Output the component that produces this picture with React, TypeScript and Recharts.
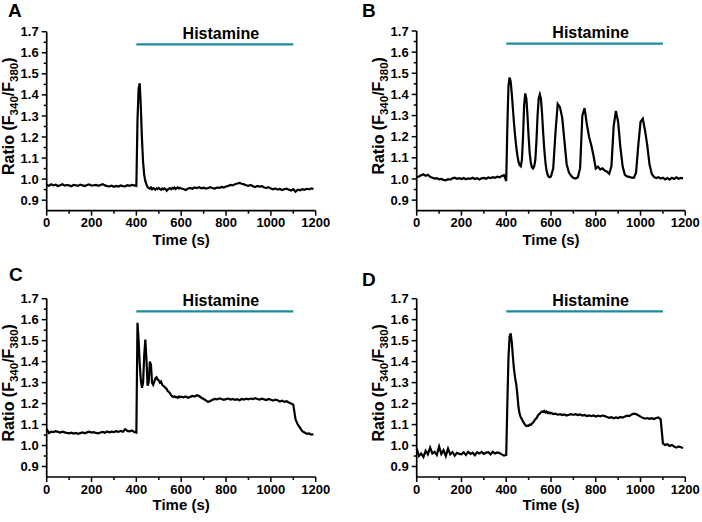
import React from 'react';
import { LineChart, Line, XAxis, YAxis, ReferenceLine } from 'recharts';

// sampling times (s): 10 s steps, 5 s steps around the histamine onset
const timeSec = [
  0, 10, 20, 30, 40, 50, 60, 70, 80, 90,
  100, 110, 120, 130, 140, 150, 160, 170, 180, 190,
  200, 210, 220, 230, 240, 250, 260, 270, 280, 290,
  300, 310, 320, 330, 340, 350, 360, 370, 380, 390,
  400, 405, 410, 415, 420, 425, 430, 435, 440, 445,
  450, 455, 460, 465, 470, 475, 480, 485, 490, 495,
  500, 505, 510, 515, 520, 525, 530, 535, 540, 545,
  550, 555, 560, 565, 570, 575, 580, 585, 590, 595, 600,
  610, 620, 630, 640, 650, 660, 670, 680, 690, 700,
  710, 720, 730, 740, 750, 760, 770, 780, 790, 800,
  810, 820, 830, 840, 850, 860, 870, 880, 890, 900,
  910, 920, 930, 940, 950, 960, 970, 980, 990, 1000,
  1010, 1020, 1030, 1040, 1050, 1060, 1070, 1080, 1090, 1100,
  1110, 1120, 1130, 1140, 1150, 1160, 1170, 1180, 1190,
];

const ratioA = [
  0.972, 0.968, 0.975, 0.970, 0.973, 0.967, 0.971, 0.976, 0.969, 0.972,
  0.970, 0.966, 0.973, 0.971, 0.968, 0.974, 0.970, 0.967, 0.972, 0.975,
  0.969, 0.971, 0.973, 0.968, 0.972, 0.976, 0.970, 0.967, 0.966, 0.969,
  0.964, 0.968, 0.965, 0.970, 0.967, 0.966, 0.971, 0.968, 0.972, 0.970,
  0.968, 1.28, 1.43, 1.455, 1.34, 1.19, 1.08, 1.02, 0.99, 0.975,
  0.962, 0.958, 0.955, 0.960, 0.952, 0.957, 0.955, 0.950, 0.956, 0.953,
  0.958, 0.952, 0.949, 0.955, 0.951, 0.956, 0.953, 0.945, 0.950, 0.955,
  0.957, 0.952, 0.958, 0.955, 0.960, 0.953, 0.957, 0.961, 0.956, 0.959, 0.955,
  0.953, 0.948, 0.955, 0.958, 0.954, 0.960, 0.957, 0.962, 0.956, 0.959,
  0.955, 0.958, 0.962, 0.957, 0.955, 0.960, 0.958, 0.963, 0.960, 0.965,
  0.968, 0.972, 0.970, 0.976, 0.979, 0.982, 0.978, 0.975, 0.971, 0.968,
  0.972, 0.966, 0.962, 0.968, 0.964, 0.966, 0.960, 0.958, 0.962, 0.955,
  0.952, 0.956, 0.950, 0.953, 0.948, 0.952, 0.955, 0.950, 0.946, 0.952,
  0.940, 0.950, 0.947, 0.952, 0.949, 0.954, 0.951, 0.956, 0.953,
];

const ratioB = [
  1.008, 1.012, 1.018, 1.022, 1.015, 1.020, 1.010, 1.006, 1.002, 1.004,
  0.998, 1.000, 0.996, 0.994, 0.999, 0.997, 1.003, 1.006, 1.001, 1.004,
  1.000, 1.005, 0.999, 1.003, 1.001, 1.006, 1.000, 1.004, 0.998, 1.003,
  1.005, 1.001, 1.007, 1.004, 1.009, 1.006, 1.011, 1.008, 1.014, 1.018,
  0.990, 1.25, 1.44, 1.48, 1.46, 1.40, 1.33, 1.26, 1.20, 1.15,
  1.11, 1.08, 1.065, 1.06, 1.09, 1.20, 1.35, 1.405, 1.38, 1.30,
  1.20, 1.12, 1.075, 1.055, 1.05, 1.06, 1.09, 1.18, 1.30, 1.38,
  1.40, 1.38, 1.31, 1.22, 1.14, 1.08, 1.04, 1.02, 1.01, 1.008, 1.012,
  1.05, 1.22, 1.355, 1.34, 1.29, 1.18, 1.07, 1.03, 1.015, 1.005,
  1.002, 1.008, 1.05, 1.30, 1.335, 1.26, 1.20, 1.16, 1.11, 1.05,
  1.058, 1.045, 1.05, 1.04, 1.035, 1.025, 1.06, 1.25, 1.322, 1.27,
  1.15, 1.06, 1.02, 1.012, 1.01, 1.006, 1.005, 1.03, 1.16, 1.27,
  1.285, 1.23, 1.16, 1.07, 1.025, 1.01, 1.004, 1.008, 1.002, 1.006,
  0.998, 1.004, 0.997, 1.006, 1.000, 1.008, 1.001, 1.005, 1.003,
];

const ratioC = [
  1.078, 1.060, 1.066, 1.064, 1.068, 1.065, 1.062, 1.066, 1.063, 1.060,
  1.058, 1.061, 1.057, 1.060, 1.056, 1.059, 1.062, 1.058, 1.063, 1.066,
  1.062, 1.064, 1.060, 1.058, 1.062, 1.065, 1.061, 1.067, 1.063, 1.066,
  1.064, 1.068, 1.065, 1.070, 1.066, 1.078, 1.070, 1.068, 1.072, 1.065,
  1.062, 1.585, 1.50, 1.39, 1.31, 1.275, 1.30, 1.43, 1.505, 1.41,
  1.285, 1.30, 1.40, 1.385, 1.30, 1.29, 1.305, 1.32, 1.325, 1.315,
  1.31, 1.30, 1.305, 1.29, 1.285, 1.28, 1.275, 1.27, 1.26, 1.255,
  1.25, 1.24, 1.235, 1.232, 1.235, 1.23, 1.232, 1.228, 1.234, 1.23, 1.233,
  1.230, 1.234, 1.228, 1.232, 1.236, 1.233, 1.240, 1.236, 1.228, 1.222,
  1.215, 1.208, 1.212, 1.218, 1.222, 1.220, 1.225, 1.222, 1.218, 1.221,
  1.224, 1.219, 1.222, 1.218, 1.221, 1.216, 1.222, 1.219, 1.223, 1.220,
  1.224, 1.221, 1.226, 1.222, 1.219, 1.223, 1.220, 1.217, 1.222, 1.218,
  1.214, 1.219, 1.216, 1.210, 1.214, 1.208, 1.211, 1.205, 1.200, 1.195,
  1.125, 1.100, 1.085, 1.068, 1.062, 1.056, 1.058, 1.052, 1.054,
];

const ratioD = [
  0.985, 0.950, 0.962, 0.945, 0.975, 0.958, 0.990, 0.962, 0.970, 0.955,
  0.995, 0.960, 0.978, 0.950, 0.985, 0.958, 0.968, 0.952, 0.965, 0.960,
  0.958, 0.968, 0.955, 0.970, 0.960, 0.966, 0.954, 0.968, 0.962, 0.970,
  0.960, 0.966, 0.968, 0.958, 0.970, 0.962, 0.967, 0.964, 0.958, 0.952,
  0.955, 1.20, 1.42, 1.52, 1.535, 1.49, 1.42, 1.36, 1.32, 1.29,
  1.24, 1.18, 1.15, 1.135, 1.125, 1.115, 1.105, 1.098, 1.093, 1.095,
  1.094, 1.10, 1.098, 1.105, 1.11, 1.118, 1.125, 1.13, 1.14, 1.148,
  1.152, 1.158, 1.162, 1.160, 1.165, 1.158, 1.162, 1.155, 1.158, 1.153, 1.156,
  1.150, 1.152, 1.147, 1.150, 1.145, 1.148, 1.143, 1.147, 1.150, 1.146,
  1.149, 1.145, 1.148, 1.143, 1.146, 1.141, 1.144, 1.140, 1.143, 1.138,
  1.142, 1.139, 1.143, 1.140, 1.136, 1.132, 1.135, 1.130, 1.134, 1.131,
  1.136, 1.133, 1.138, 1.142, 1.140, 1.148, 1.152, 1.150, 1.144, 1.138,
  1.132, 1.128, 1.131, 1.127, 1.130, 1.126, 1.131, 1.134, 1.125, 1.010,
  1.002, 1.006, 0.998, 1.003, 0.995, 0.990, 0.996, 0.992, 0.988,
];

const xTicks = [0, 100, 200, 300, 400, 500, 600, 700, 800, 900, 1000, 1100, 1200];
const yTicks = [0.9, 0.95, 1.0, 1.05, 1.1, 1.15, 1.2, 1.25, 1.3, 1.35, 1.4, 1.45, 1.5, 1.55, 1.6, 1.65, 1.7];
const histamineWindow = [400, 1100];
const histamineLevel = 1.64;

const FONT = '"Liberation Sans", Arial, sans-serif';
const TEAL = '#1b8b9e';

const panels = [
  { letter: 'A', values: ratioA, left: 0, top: 0, yW: 46.7, mRight: 35.3, mTop: 31.7, xH: 50.3, xLab: 34.5, lx: 8, ly: 1 },
  { letter: 'B', values: ratioB, left: 351, top: 0, yW: 65.7, mRight: 16.7, mTop: 31, xH: 50.3, xLab: 34.5, lx: 362, ly: 1 },
  { letter: 'C', values: ratioC, left: 0, top: 261, yW: 46.7, mRight: 35.3, mTop: 37.7, xH: 45, xLab: 32.5, lx: 9, ly: 265 },
  { letter: 'D', values: ratioD, left: 351, top: 261, yW: 65.7, mRight: 16.7, mTop: 37.7, xH: 45, xLab: 32.5, lx: 362, ly: 270 },
];

const XTick = (props: any) => {
  const { x, y, payload } = props;
  const major = payload.value % 200 === 0;
  return (
    <g>
      <line x1={x} y1={y} x2={x} y2={y + (major ? 5 : 3)} stroke="#000" strokeWidth={1.5} />
      {major && (
        <text x={x} y={y + 16.5} textAnchor="middle" fontSize={13} fontWeight="bold" fontFamily={FONT} fill="#000">
          {payload.value}
        </text>
      )}
    </g>
  );
};

const YTick = (props: any) => {
  const { x, y, payload } = props;
  const major = Math.round(payload.value * 100) % 10 === 0;
  return (
    <g>
      <line x1={x - (major ? 5 : 3)} y1={y} x2={x} y2={y} stroke="#000" strokeWidth={1.5} />
      {major && (
        <text x={x - 8} y={y + 4.6} textAnchor="end" fontSize={13} fontWeight="bold" fontFamily={FONT} fill="#000">
          {payload.value.toFixed(1)}
        </text>
      )}
    </g>
  );
};

const YLabel = (props: any) => {
  const vb = props.viewBox;
  const cx = vb.x + vb.width - 33;
  const cy = vb.y + vb.height / 2 - 5;
  return (
    <text
      x={cx}
      y={cy}
      transform={`rotate(-90 ${cx} ${cy})`}
      textAnchor="middle"
      fontSize={16}
      fontWeight="bold"
      fontFamily={FONT}
      fill="#000"
    >
      Ratio (F<tspan fontSize={11.5} dy={4}>340</tspan>
      <tspan dy={-4}>/F</tspan>
      <tspan fontSize={11.5} dy={4}>380</tspan>
      <tspan dy={-4}>)</tspan>
    </text>
  );
};

const XLabel = (props: any) => {
  const vb = props.viewBox;
  return (
    <text
      x={vb.x + vb.width / 2}
      y={vb.y + props.dyBase}
      textAnchor="middle"
      fontSize={15}
      fontWeight="bold"
      fontFamily={FONT}
      fill="#000"
    >
      Time (s)
    </text>
  );
};

const HistLabel = (props: any) => {
  const vb = props.viewBox;
  return (
    <text
      x={vb.x + vb.width / 2 + 6}
      y={vb.y - 5.5}
      textAnchor="middle"
      fontSize={16}
      fontWeight="bold"
      fontFamily={FONT}
      fill="#000"
    >
      Histamine
    </text>
  );
};

function Panel({ p }: { p: (typeof panels)[number] }) {
  const data = timeSec.map((t, i) => ({ t, v: p.values[i] }));
  return (
    <div style={{ position: 'absolute', left: p.left, top: p.top, width: 351, height: 261 }}>
      <LineChart width={351} height={261} data={data} margin={{ top: p.mTop, right: p.mRight, bottom: 0, left: 0 }}>
        <XAxis
          type="number"
          dataKey="t"
          domain={[0, 1200]}
          ticks={xTicks}
          interval={0}
          height={p.xH}
          tickSize={0}
          tickMargin={0}
          tickLine={false}
          tick={<XTick />}
          axisLine={{ stroke: '#000', strokeWidth: 1.7 }}
          label={<XLabel dyBase={p.xLab} />}
        />
        <YAxis
          type="number"
          domain={[0.85, 1.7]}
          ticks={yTicks}
          interval={0}
          width={p.yW}
          tickSize={0}
          tickMargin={0}
          tickLine={false}
          tick={<YTick />}
          axisLine={{ stroke: '#000', strokeWidth: 1.7 }}
          label={<YLabel />}
        />
        <ReferenceLine
          segment={[
            { x: histamineWindow[0], y: histamineLevel },
            { x: histamineWindow[1], y: histamineLevel },
          ]}
          stroke={TEAL}
          strokeWidth={2.2}
          label={<HistLabel />}
        />
        <Line
          type="linear"
          dataKey="v"
          stroke="#000"
          strokeWidth={2.2}
          dot={false}
          isAnimationActive={false}
        />
      </LineChart>
      <div
        style={{
          position: 'absolute',
          left: p.lx - p.left,
          top: p.ly - p.top,
          fontFamily: FONT,
          fontWeight: 'bold',
          fontSize: 19,
          lineHeight: '19px',
          color: '#000',
        }}
      >
        {p.letter}
      </div>
    </div>
  );
}

export default function App() {
  return (
    <div style={{ position: 'absolute', left: 0, top: 0, width: 702, height: 522, background: '#fff' }}>
      {panels.map((p) => (
        <Panel key={p.letter} p={p} />
      ))}
    </div>
  );
}
